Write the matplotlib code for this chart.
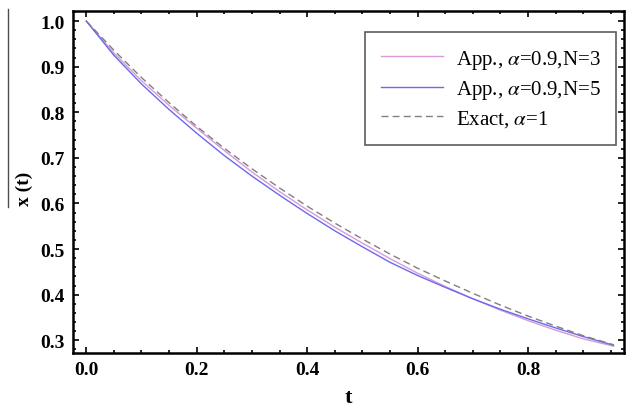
import numpy as np
import matplotlib.pyplot as plt
from matplotlib.lines import Line2D
from matplotlib.ticker import MultipleLocator

# values
t = [0.0, 0.05, 0.1, 0.15, 0.2, 0.25, 0.3, 0.35, 0.4, 0.45, 0.5,
     0.55, 0.6, 0.65, 0.7, 0.75, 0.8, 0.85, 0.9, 0.955]
app_n3 = [1.0, 0.930, 0.869, 0.815, 0.765, 0.716, 0.669, 0.626, 0.586, 0.548,
          0.513, 0.479, 0.447, 0.418, 0.391, 0.366, 0.343, 0.322, 0.303, 0.287]
app_n5 = [1.0, 0.925, 0.862, 0.806, 0.754, 0.705, 0.660, 0.618, 0.578, 0.540,
          0.505, 0.471, 0.442, 0.416, 0.391, 0.368, 0.347, 0.327, 0.308, 0.289]
exact = [1.0, 0.936, 0.876, 0.821, 0.769, 0.721, 0.676, 0.634, 0.594, 0.557,
         0.522, 0.489, 0.458, 0.430, 0.403, 0.377, 0.353, 0.331, 0.310, 0.290]

plt.rcParams['font.family'] = ['Liberation Serif', 'DejaVu Serif']
plt.rcParams['mathtext.fontset'] = 'stix'

fig = plt.figure(figsize=(6.31, 4.10), dpi=100)
ax = fig.add_axes([0.1157, 0.1366, 0.8733, 0.8341])

ax.plot(t, app_n3, color='#d89ad8', lw=1.0, label=r'App., $\alpha$=0.9,N=3')
ax.plot(t, app_n5, color='#6a6af0', lw=1.0, label=r'App., $\alpha$=0.9,N=5')
ax.plot(t, exact, color='#808080', lw=1.0, ls=(0, (5, 3)),
        label=r'Exact, $\alpha$=1')

ax.set_xlim(-0.024, 0.974)
ax.set_ylim(0.272, 1.022)
ax.xaxis.set_major_locator(MultipleLocator(0.2))
ax.xaxis.set_minor_locator(MultipleLocator(0.05))
ax.yaxis.set_major_locator(MultipleLocator(0.1))
ax.yaxis.set_minor_locator(MultipleLocator(0.02))
ax.xaxis.set_major_formatter(lambda v, p: f'{v:.1f}')
ax.yaxis.set_major_formatter(lambda v, p: f'{v:.1f}')
ax.tick_params(which='both', direction='in', top=True, right=True,
               width=1.2, labelsize=14)
ax.tick_params(which='major', length=4, pad=6)
ax.tick_params(which='minor', length=2)
for lab in ax.get_xticklabels() + ax.get_yticklabels():
    lab.set_fontweight('bold')
for s in ax.spines.values():
    s.set_linewidth(1.8)

ax.set_xlabel('t', fontsize=16, fontweight='bold', labelpad=6)
fig.text(0.038, 0.54, 'x (t)', rotation=90, fontsize=14, fontweight='bold',
         ha='center', va='center')
fig.add_artist(Line2D([0.013, 0.013], [1 - 10 / 410, 1 - 208 / 410],
                      color='0.3', lw=1.0, transform=fig.transFigure))

leg = ax.legend(loc='upper right', bbox_to_anchor=(0.9855, 0.9386),
                borderaxespad=0, fontsize=15,
                handlelength=3.0, frameon=True, fancybox=False,
                borderpad=0.75, labelspacing=0.35, handletextpad=0.6)
leg.get_frame().set_edgecolor('0.2')
leg.get_frame().set_linewidth(1.2)

fig.savefig('out.png', dpi=100)
